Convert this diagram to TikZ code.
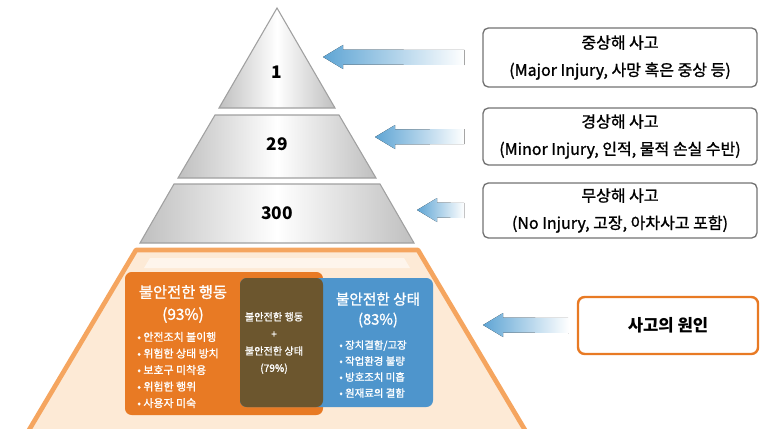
\documentclass[tikz,border=0pt]{standalone}
\usepackage{fontspec}
\setmainfont{Noto Sans CJK KR}
\newfontfamily\krmed[FakeBold=1.2]{Noto Sans CJK KR}
\usetikzlibrary{calc}
\definecolor{ablue}{RGB}{95,165,212}
\definecolor{orgbox}{RGB}{232,122,36}
\definecolor{brnbox}{RGB}{108,86,46}
\definecolor{blubox}{RGB}{78,149,204}
\definecolor{orgedge}{RGB}{245,165,95}
\definecolor{orgfill}{RGB}{253,234,214}
\definecolor{tiergray}{RGB}{160,160,160}
\tikzset{
  tier/.style={draw=tiergray, line width=0.8pt, left color=black!25, right color=black!25, middle color=white},
  num/.style={font=\fontsize{13}{15}\selectfont\bfseries, text=black},
  infobox/.style={draw=black!55, line width=1pt, rounded corners=4pt, fill=white, align=center,
     minimum width=274*0.75pt, font=\fontsize{12}{20.5}\selectfont\krmed, inner sep=0pt},
  causebox/.style={draw=orgbox, line width=1.8pt, rounded corners=5pt, fill=white,
     minimum width=180*0.75pt, minimum height=57*0.75pt, font=\fontsize{12.5}{15}\selectfont\bfseries},
  wtext/.style={text=white, inner sep=0pt},
}
\newcommand\garrow[2]{%
  \fill[left color=ablue, right color=ablue!0]
    (#1) -- ($(#1)+(20,-12)$) -- ($(#1)+(20,-7.5)$) -- ($(#2)+(0,-7.5)$)
    -- ($(#2)+(0,7.5)$) -- ($(#1)+(20,7.5)$) -- ($(#1)+(20,12)$) -- cycle;}
\begin{document}
\begin{tikzpicture}[x=0.75pt,y=-0.75pt]
\useasboundingbox (0,0) rectangle (762,428);
% pyramid tiers
\draw[tier] (277,8) -- (335,108) -- (219,108) -- cycle;
\draw[tier] (215,115) -- (339,115) -- (376,178) -- (178,178) -- cycle;
\draw[tier] (174,184) -- (380,184) -- (414,243) -- (140,243) -- cycle;
% orange base
\fill[orgfill] (136,250) -- (418,250) -- (525,430) -- (29,430) -- cycle;
\fill[white, opacity=0.55] (150,258) -- (404,258) -- (410,268) -- (144,268) -- cycle;
\draw[orgedge, line width=3.5pt, line join=round] (29,430) -- (136,250) -- (418,250) -- (525,430);
% numbers
\node[num] (n1) at (277,72) {1};
\node[num] (n29) at (277,144) {29};
\node[num] (n300) at (277,213) {300};
% inner boxes
\fill[orgbox, rounded corners=5pt] (125,272) rectangle (323,415);
\fill[blubox, rounded corners=5pt] (240,278) rectangle (433,407);
\fill[brnbox, rounded corners=5pt] (240,278) rectangle (323,407);
\node[wtext, align=center, font=\fontsize{11.5}{16.5}\selectfont\krmed] (act) at (183,304) {불안전한 행동\\(93\%)};
\node[wtext, align=left, anchor=west, font=\fontsize{8.2}{12.4}\selectfont\krmed] (actl) at (137,370)
  {• 안전조치 불이행\\• 위험한 상태 방치\\• 보호구 미착용\\• 위험한 행위\\• 사용자 미숙};
\node[wtext, align=center, font=\fontsize{7.6}{12.8}\selectfont\krmed] (both) at (274,343)
  {불안전한 행동\\+\\불안전한 상태\\(79\%)};
\node[wtext, align=center, font=\fontsize{11}{15}\selectfont\krmed] (cond) at (378,310) {불안전한 상태\\(83\%)};
\node[wtext, align=left, anchor=west, font=\fontsize{7.8}{12}\selectfont\krmed] (condl) at (339,369)
  {• 장치결함/고장\\• 작업환경 불량\\• 방호조치 미흡\\• 원재료의 결함};
% right boxes
\node[infobox, minimum height=59*0.75pt] (b1) at (620,57.5) {중상해 사고\\(Major Injury, 사망 혹은 중상 등)};
\node[infobox, minimum height=57*0.75pt] (b2) at (620,136.5) {경상해 사고\\(Minor Injury, 인적, 물적 손실 수반)};
\node[infobox, minimum height=55*0.75pt] (b3) at (620,210.5) {무상해 사고\\(No Injury, 고장, 아차사고 포함)};
\node[causebox] (b4) at (668,325.5) {사고의 원인};
% arrows
\coordinate (tip1) at (323,57);  \coordinate (tail1) at ($(b1.west)+(-18,0)$);
\coordinate (tip2) at (375,137); \coordinate (tail2) at ($(b2.west)+(-18,0)$);
\coordinate (tip3) at (417,210); \coordinate (tail3) at ($(b3.west)+(-18,0)$);
\coordinate (tip4) at (483,325); \coordinate (tail4) at ($(b4.west)+(-8,0)$);
\garrow{tip1}{tail1}
\garrow{tip2}{tail2}
\garrow{tip3}{tail3}
\garrow{tip4}{tail4}
\end{tikzpicture}
\end{document}
